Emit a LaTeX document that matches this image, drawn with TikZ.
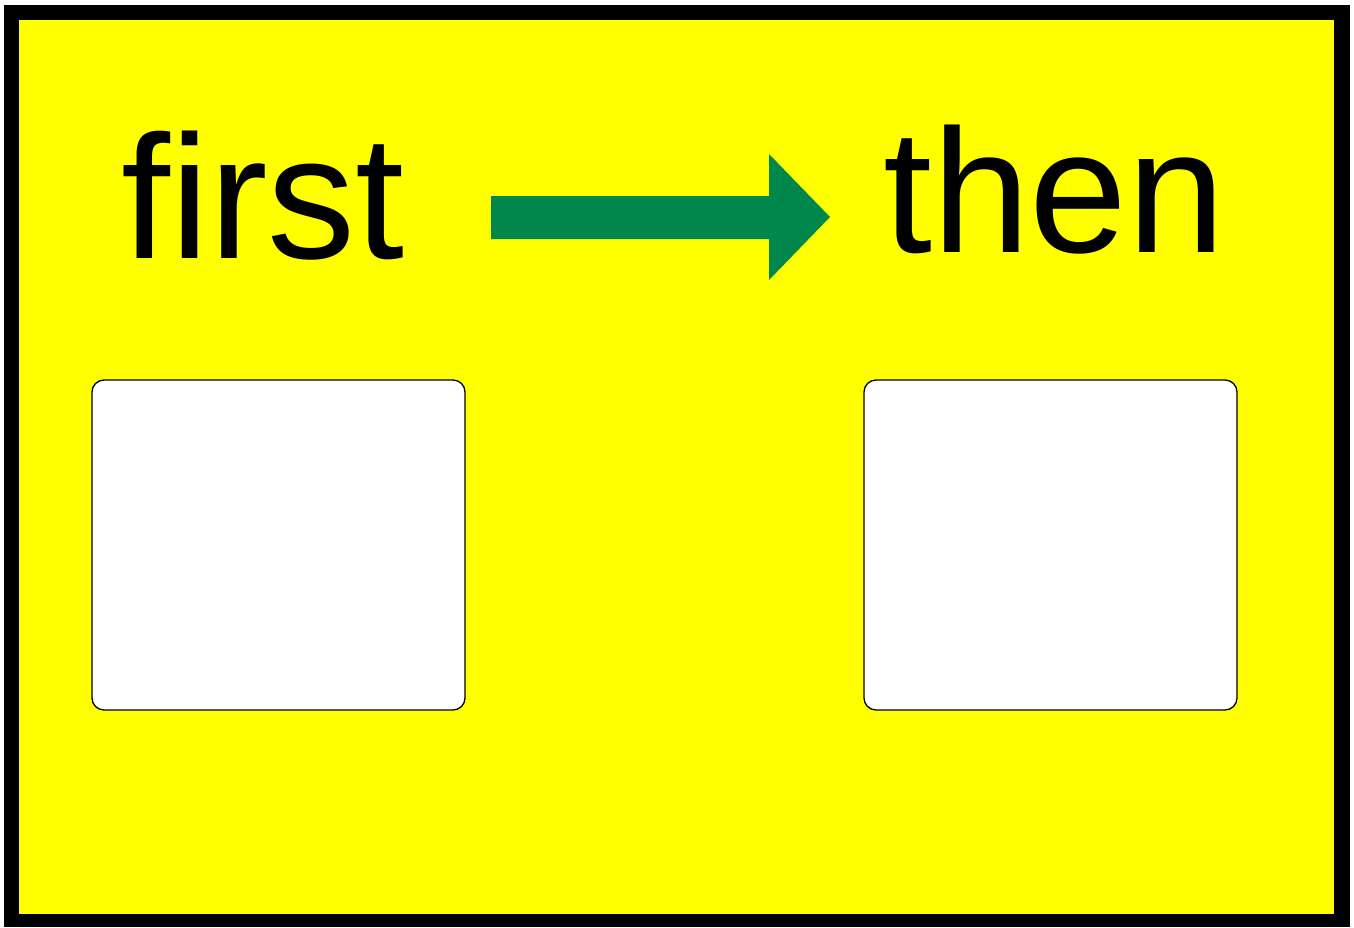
\documentclass[tikz,border=0pt]{standalone}
\usepackage{fontspec}
\setmainfont{Liberation Sans}
\definecolor{bgyellow}{RGB}{255,255,0}
\definecolor{arrowgreen}{RGB}{0,135,75}
\begin{document}
\begin{tikzpicture}[x=1pt,y=-1pt,
  word/.style={anchor=base west,inner sep=0pt,font=\fontsize{176}{200}\selectfont,text=black},
  card/.style={draw=black,line width=1.3pt,fill=white,rounded corners=12pt}]
\useasboundingbox (0,0) rectangle (1354,927);
\fill[white] (0,0) rectangle (1354,927);
\fill[black] (4,5) rectangle (1350,927);
\fill[bgyellow] (19,20) rectangle (1334,914);
\node[word] (first) at (121,258) {first};
\node[word] (then) at (883,252) {then};
\fill[arrowgreen] (491,196) -- (769,196) -- (769,154) -- (830,217) -- (769,280) -- (769,239) -- (491,239) -- cycle;
\draw[card] (92,380) rectangle (465,710);
\draw[card] (864,380) rectangle (1237,710);
\end{tikzpicture}
\end{document}
